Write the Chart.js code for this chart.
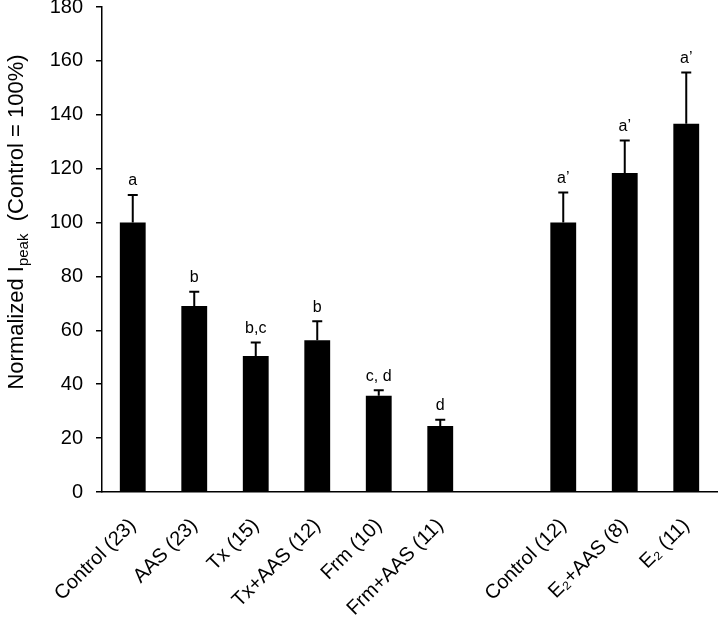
<!DOCTYPE html>
<html><head><meta charset="utf-8">
<script src="https://cdn.jsdelivr.net/npm/chart.js@4"></script>
<style>html,body{margin:0;padding:0;background:#fff}#wrap{width:720px;height:629px;position:relative}</style>
</head><body><div id="wrap"><canvas id="c"></canvas></div>
<script>
const categories = ['Control (23)','AAS (23)','Tx (15)','Tx+AAS (12)','Frm (10)','Frm+AAS (11)','','Control (12)','E\u2082+AAS (8)','E\u2082 (11)'];
const means  = [100, 69, 50.5, 56.3, 35.7, 24.5, null, 100, 118.4, 136.7];
const errors = [10.2, 5.3, 5.0, 7.1, 2.1, 2.3, null, 11.2, 12.1, 19.0];
const letters = ['a','b','b,c','b','c, d','d','','a\u2019','a\u2019','a\u2019'];
const yMin = 0, yMax = 180, yStep = 20;
const yTitleMain = 'Normalized I', yTitleSub = 'peak', yTitleRest = '  (Control = 100%)';

const FONT = '"Liberation Sans", Arial, sans-serif';

const errorPlugin = {
  id: 'errbars',
  afterDatasetsDraw(chart) {
    const ctx = chart.ctx, xs = chart.scales.x, ys = chart.scales.y;
    ctx.save();
    ctx.strokeStyle = '#000'; ctx.lineWidth = 2; ctx.fillStyle = '#000';
    ctx.font = '16px ' + FONT; ctx.textAlign = 'center'; ctx.textBaseline = 'bottom';
    means.forEach((m, i) => {
      if (m == null) return;
      const x = xs.getPixelForValue(i);
      const yb = ys.getPixelForValue(m);
      const yt = ys.getPixelForValue(m + errors[i]);
      ctx.beginPath();
      ctx.moveTo(x, yb); ctx.lineTo(x, yt);
      ctx.moveTo(x - 5, yt); ctx.lineTo(x + 5, yt);
      ctx.stroke();
      ctx.fillText(letters[i], x, yt - 6);
    });
    ctx.restore();
  }
};

const titlePlugin = {
  id: 'ytitle',
  afterDraw(chart) {
    const ctx = chart.ctx;
    ctx.save();
    ctx.fillStyle = '#000';
    const big = '22px ' + FONT, small = '15px ' + FONT;
    ctx.font = big; const w1 = ctx.measureText(yTitleMain).width, w3 = ctx.measureText(yTitleRest).width;
    ctx.font = small; const w2 = ctx.measureText(yTitleSub).width;
    const total = w1 + w2 + w3;
    ctx.translate(23, 222);
    ctx.rotate(-Math.PI / 2);
    ctx.textBaseline = 'alphabetic'; ctx.textAlign = 'left';
    let x = -total / 2;
    ctx.font = big; ctx.fillText(yTitleMain, x, 0); x += w1;
    ctx.font = small; ctx.fillText(yTitleSub, x, 5); x += w2;
    ctx.font = big; ctx.fillText(yTitleRest, x, 0);
    ctx.restore();
  }
};

new Chart(document.getElementById('c'), {
  type: 'bar',
  data: {
    labels: categories,
    datasets: [{ data: means, backgroundColor: '#000', borderWidth: 0, barPercentage: 0.42, categoryPercentage: 1 }]
  },
  options: {
    responsive: true, maintainAspectRatio: false, animation: false,
    layout: { padding: { top: 7, right: 3, left: 0, bottom: 0 } },
    plugins: { legend: { display: false }, tooltip: { enabled: false } },
    scales: {
      x: {
        grid: { display: true, drawOnChartArea: false, drawTicks: false },
        border: { display: true, color: '#000', width: 1.5 },
        ticks: { color: '#000', font: { family: FONT, size: 20 }, maxRotation: 45, minRotation: 45, autoSkip: false, padding: 22 },
        afterFit(s) { s.height = 137; s.paddingLeft = 0; s.paddingRight = 0; }
      },
      y: {
        min: yMin, max: yMax,
        grid: { display: true, drawOnChartArea: false, drawTicks: true, tickLength: 6, color: '#000', lineWidth: 1.5 },
        border: { display: true, color: '#000', width: 1.5 },
        ticks: { stepSize: yStep, color: '#000', font: { family: FONT, size: 20 }, padding: 13 },
        afterFit(s) { s.width = 102; s.paddingTop = 0; s.paddingBottom = 0; }
      }
    }
  },
  plugins: [errorPlugin, titlePlugin]
});
</script></body></html>
